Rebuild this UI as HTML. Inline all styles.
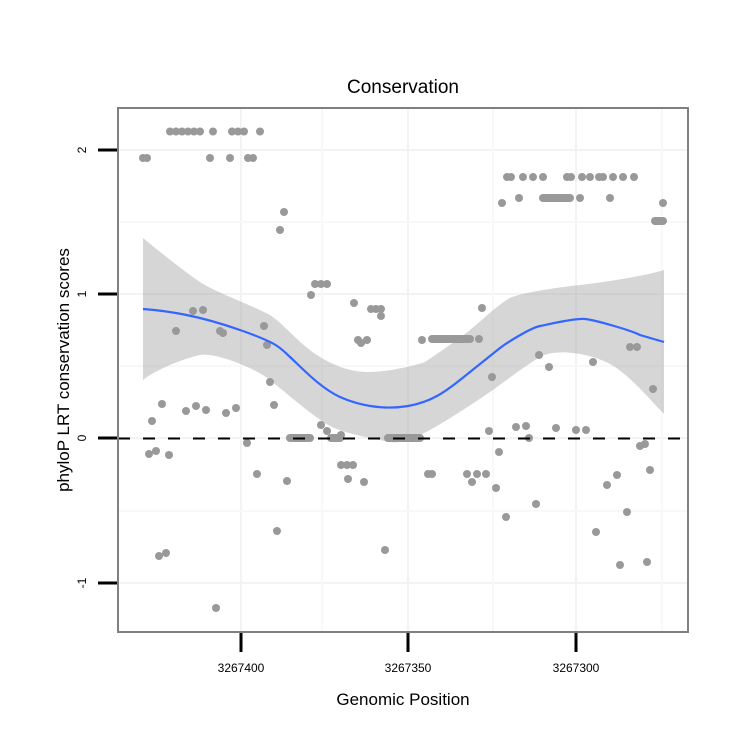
<!DOCTYPE html>
<html><head><style>body{margin:0;background:#fff}svg{display:block}text{font-family:"Liberation Sans",sans-serif}</style></head><body>
<svg width="750" height="750" viewBox="0 0 750 750">
<rect width="750" height="750" fill="#fff"/>
<g stroke="#f3f3f3" stroke-width="2">
<line x1="118" x2="688" y1="150" y2="150"/><line x1="118" x2="688" y1="294" y2="294"/><line x1="118" x2="688" y1="438" y2="438"/><line x1="118" x2="688" y1="583" y2="583"/>
<line x1="241" x2="241" y1="108" y2="632"/><line x1="408" x2="408" y1="108" y2="632"/><line x1="576" x2="576" y1="108" y2="632"/>
</g>
<g stroke="#f8f8f8" stroke-width="2">
<line x1="118" x2="688" y1="222" y2="222"/><line x1="118" x2="688" y1="366" y2="366"/><line x1="118" x2="688" y1="511" y2="511"/>
<line x1="322" x2="322" y1="108" y2="632"/><line x1="493" x2="493" y1="108" y2="632"/><line x1="662" x2="662" y1="108" y2="632"/>
</g>
<path fill="#999" fill-opacity="0.4" d="M143,238 C160,252 185,272 200,282 S240,300 270,315 C285,325 300,345 320,357 S355,372 370,372 S415,366 425,362 C440,352 460,338 470,330 S500,303 510,298 S560,287 580,285 S645,276 664,270 L664,414 C650,400 630,375 610,364 S555,348 540,357 S500,385 490,392 S445,422 430,430 S400,444 390,442 S345,434 330,426 S285,392 270,380 S215,352 200,355 S155,370 143,380 Z"/>
<g fill="#999">
<circle cx="143" cy="158" r="4"/><circle cx="147" cy="158" r="4"/>
<circle cx="170" cy="131.5" r="4"/><circle cx="176" cy="131.5" r="4"/><circle cx="182" cy="131.5" r="4"/><circle cx="188" cy="131.5" r="4"/><circle cx="194" cy="131.5" r="4"/><circle cx="200" cy="131.5" r="4"/><circle cx="213" cy="131.5" r="4"/><circle cx="232" cy="131.5" r="4"/><circle cx="238" cy="131.5" r="4"/><circle cx="244" cy="131.5" r="4"/><circle cx="260" cy="131.5" r="4"/>
<circle cx="210" cy="158" r="4"/><circle cx="230" cy="158" r="4"/><circle cx="248" cy="158" r="4"/><circle cx="253" cy="158" r="4"/>
<circle cx="284" cy="212" r="4"/><circle cx="280" cy="230" r="4"/><circle cx="315" cy="284" r="4"/><circle cx="321" cy="284" r="4"/><circle cx="327" cy="284" r="4"/><circle cx="311" cy="295" r="4"/><circle cx="354" cy="303" r="4"/><circle cx="371" cy="309" r="4"/><circle cx="376" cy="309" r="4"/><circle cx="381" cy="309" r="4"/><circle cx="381" cy="316" r="4"/><circle cx="358" cy="340" r="4"/><circle cx="367" cy="340" r="4"/><circle cx="361" cy="343" r="4"/>
<circle cx="193" cy="311" r="4"/><circle cx="203" cy="310" r="4"/><circle cx="176" cy="331" r="4"/><circle cx="220" cy="331" r="4"/><circle cx="223" cy="333" r="4"/><circle cx="264" cy="326" r="4"/><circle cx="267" cy="345" r="4"/><circle cx="270" cy="382" r="4"/><circle cx="274" cy="405" r="4"/>
<circle cx="162" cy="404" r="4"/><circle cx="152" cy="421" r="4"/><circle cx="186" cy="411" r="4"/><circle cx="196" cy="406" r="4"/><circle cx="206" cy="410" r="4"/><circle cx="226" cy="413" r="4"/><circle cx="236" cy="408" r="4"/><circle cx="321" cy="425" r="4"/><circle cx="327" cy="431" r="4"/><circle cx="341" cy="435" r="4"/>
<rect x="286" y="434" width="28" height="8" rx="4"/><rect x="327" y="434" width="17" height="8" rx="4"/><rect x="384" y="434" width="40" height="8" rx="4"/>
<circle cx="247" cy="443" r="4"/><circle cx="149" cy="454" r="4"/><circle cx="156" cy="451" r="4"/><circle cx="169" cy="455" r="4"/><circle cx="257" cy="474" r="4"/><circle cx="287" cy="481" r="4"/><circle cx="341" cy="465" r="4"/><circle cx="347" cy="465" r="4"/><circle cx="353" cy="465" r="4"/><circle cx="348" cy="479" r="4"/><circle cx="364" cy="482" r="4"/><circle cx="277" cy="531" r="4"/><circle cx="159" cy="556" r="4"/><circle cx="166" cy="553" r="4"/><circle cx="385" cy="550" r="4"/><circle cx="216" cy="608" r="4"/>
<circle cx="507" cy="177" r="4"/><circle cx="511" cy="177" r="4"/><circle cx="523" cy="177" r="4"/><circle cx="533" cy="177" r="4"/><circle cx="543" cy="177" r="4"/><circle cx="567" cy="177" r="4"/><circle cx="571" cy="177" r="4"/><circle cx="582" cy="177" r="4"/><circle cx="590" cy="177" r="4"/><circle cx="599" cy="177" r="4"/><circle cx="603" cy="177" r="4"/><circle cx="613" cy="177" r="4"/><circle cx="623" cy="177" r="4"/><circle cx="634" cy="177" r="4"/>
<circle cx="519" cy="198" r="4"/><rect x="539" y="194" width="35" height="8" rx="4"/><circle cx="580" cy="198" r="4"/><circle cx="610" cy="198" r="4"/><circle cx="502" cy="203" r="4"/><circle cx="663" cy="203" r="4"/><rect x="651" y="217" width="16" height="8" rx="4"/>
<circle cx="482" cy="308" r="4"/><circle cx="422" cy="340" r="4"/><rect x="428" y="335" width="46" height="8" rx="4"/><circle cx="479" cy="339" r="4"/><circle cx="630" cy="347" r="4"/><circle cx="637" cy="347" r="4"/><circle cx="539" cy="355" r="4"/><circle cx="549" cy="367" r="4"/><circle cx="593" cy="362" r="4"/><circle cx="492" cy="377" r="4"/><circle cx="653" cy="389" r="4"/>
<circle cx="489" cy="431" r="4"/><circle cx="516" cy="427" r="4"/><circle cx="526" cy="426" r="4"/><circle cx="529" cy="438" r="4"/><circle cx="556" cy="428" r="4"/><circle cx="576" cy="430" r="4"/><circle cx="586" cy="430" r="4"/><circle cx="640" cy="446" r="4"/><circle cx="645" cy="444" r="4"/><circle cx="499" cy="452" r="4"/><circle cx="428" cy="474" r="4"/><circle cx="432" cy="474" r="4"/><circle cx="467" cy="474" r="4"/><circle cx="477" cy="474" r="4"/><circle cx="472" cy="482" r="4"/><circle cx="486" cy="474" r="4"/><circle cx="496" cy="488" r="4"/><circle cx="617" cy="475" r="4"/><circle cx="607" cy="485" r="4"/><circle cx="650" cy="470" r="4"/><circle cx="536" cy="504" r="4"/><circle cx="506" cy="517" r="4"/><circle cx="627" cy="512" r="4"/><circle cx="596" cy="532" r="4"/><circle cx="620" cy="565" r="4"/><circle cx="647" cy="562" r="4"/>
</g>
<line x1="118" x2="688" y1="438.5" y2="438.5" stroke="#000" stroke-width="2" stroke-dasharray="12,13"/>
<path fill="none" stroke="#3366ff" stroke-width="2.2" d="M143,309 C170,311 200,316 240,330 S280,348 290,357 S320,388 340,397 S385,410 408,406 S445,392 460,380 S495,352 500,348 S530,328 540,326 S575,318 585,319 S630,330 640,335 L664,342"/>
<rect x="118" y="108" width="570" height="524" fill="none" stroke="#808080" stroke-width="2"/>
<g stroke="#000" stroke-width="3">
<line x1="98" x2="117" y1="150" y2="150"/><line x1="98" x2="117" y1="294" y2="294"/><line x1="98" x2="117" y1="438" y2="438"/><line x1="98" x2="117" y1="583" y2="583"/>
<line x1="241" x2="241" y1="633" y2="652"/><line x1="408" x2="408" y1="633" y2="652"/><line x1="576" x2="576" y1="633" y2="652"/>
</g>
<g font-size="12" text-anchor="middle">
<text transform="translate(86,150) rotate(-90)">2</text><text transform="translate(86,294) rotate(-90)">1</text><text transform="translate(86,438) rotate(-90)">0</text><text transform="translate(86,583) rotate(-90)">-1</text>
<text x="241" y="672">3267400</text><text x="408" y="672">3267350</text><text x="576" y="672">3267300</text>
</g>
<text x="403" y="93" font-size="19" text-anchor="middle">Conservation</text>
<text x="403" y="705" font-size="17" text-anchor="middle">Genomic Position</text>
<text transform="translate(69,370) rotate(-90)" font-size="17" text-anchor="middle">phyloP LRT conservation scores</text>
</svg></body></html>
